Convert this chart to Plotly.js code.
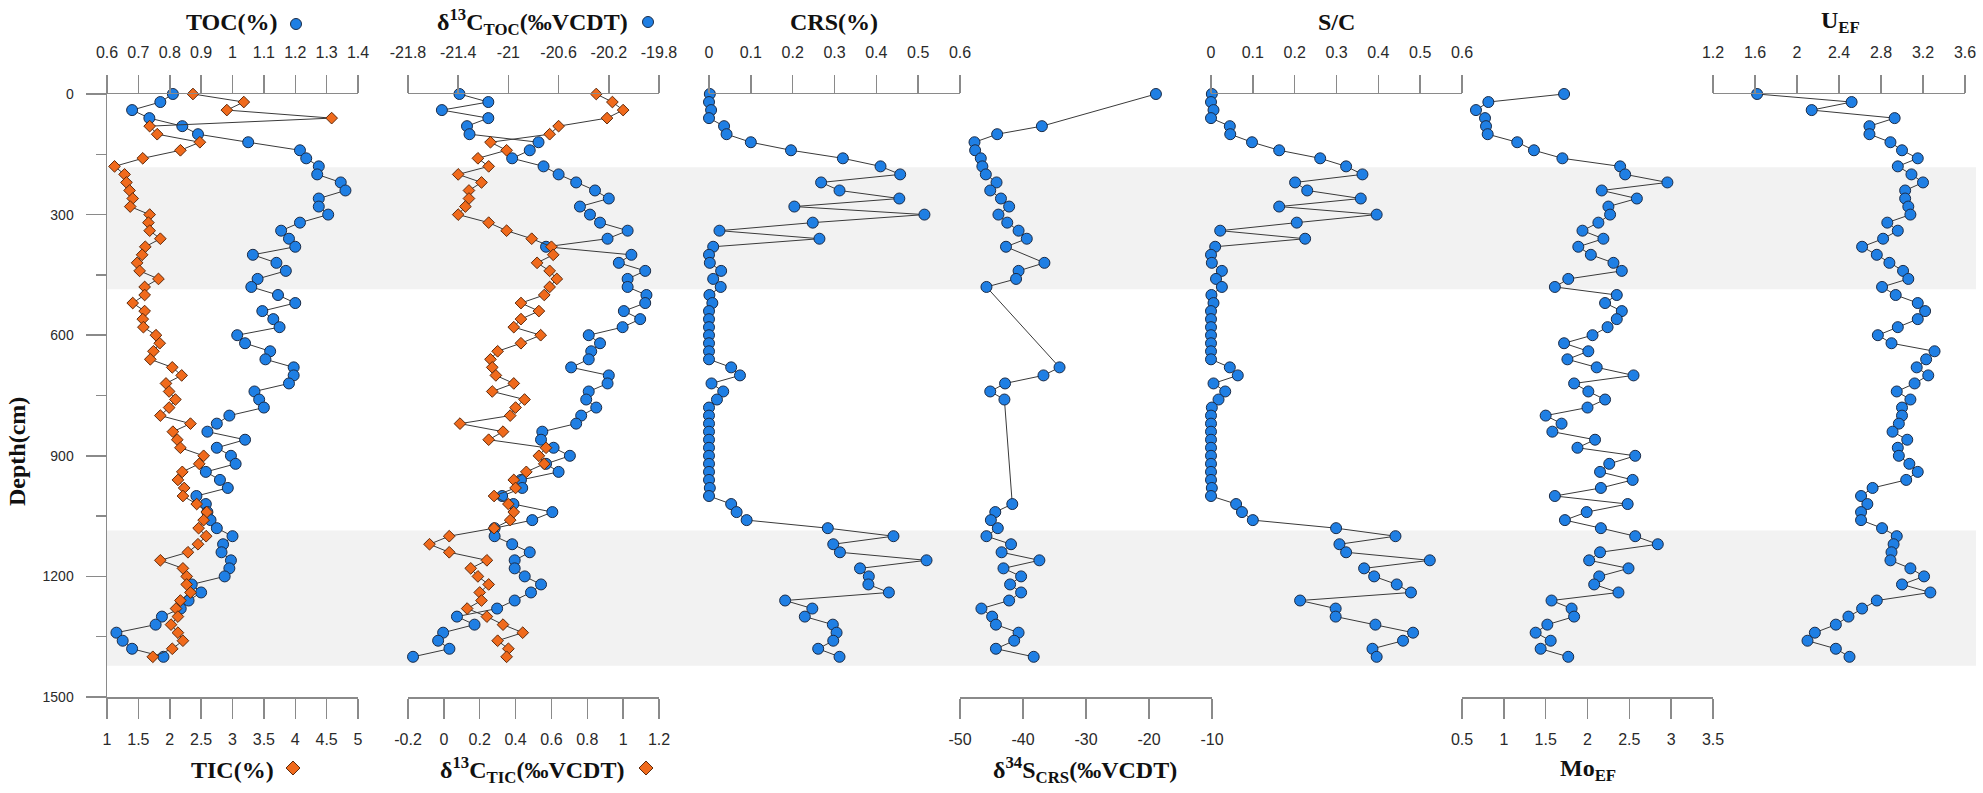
<!DOCTYPE html>
<html><head><meta charset="utf-8">
<script src="https://cdn.plot.ly/plotly-3.0.1.min.js"></script>
<style>html,body{margin:0;padding:0;background:#fff}#chart{width:1983px;height:793px}</style>
</head><body><div id="chart"></div>
<script>
// ---------------- DATA ----------------
const depth = [0,20,40,60,80,100,120,140,160,180,200,220,240,260,280,300,320,340,360,380,400,420,440,460,480,500,520,540,560,580,600,620,640,660,680,700,720,740,760,780,800,820,840,860,880,900,920,940,960,980,1000,1020,1040,1060,1080,1100,1120,1140,1160,1180,1200,1220,1240,1260,1280,1300,1320,1340,1360,1380,1400];

const toc = [0.81,0.77,0.68,0.735,0.84,0.89,1.05,1.215,1.235,1.275,1.27,1.345,1.36,1.275,1.275,1.305,1.215,1.155,1.18,1.2,1.065,1.14,1.17,1.08,1.06,1.145,1.2,1.095,1.13,1.15,1.015,1.04,1.12,1.105,1.195,1.195,1.18,1.07,1.085,1.1,0.99,0.95,0.92,1.04,0.95,0.995,1.01,0.915,0.96,0.985,0.885,0.915,0.92,0.93,0.95,1.0,0.97,0.965,0.995,0.99,0.975,0.87,0.9,0.86,0.835,0.775,0.755,0.63,0.65,0.68,0.78];

const tic = [2.37,3.18,2.91,4.58,1.68,1.80,2.48,2.17,1.57,1.12,1.28,1.31,1.36,1.41,1.37,1.68,1.66,1.68,1.85,1.61,1.56,1.48,1.52,1.82,1.60,1.60,1.41,1.60,1.57,1.58,1.78,1.84,1.74,1.69,2.04,2.19,1.94,1.99,2.09,1.99,1.85,2.33,2.05,2.12,2.17,2.54,2.47,2.20,2.13,2.23,2.21,2.43,2.59,2.54,2.46,2.58,2.45,2.29,1.85,2.21,2.27,2.27,2.33,2.17,2.10,2.13,2.02,2.13,2.21,2.04,1.73];

const d13cToc = [-21.39,-21.16,-21.53,-21.16,-21.33,-21.31,-20.76,-20.83,-20.97,-20.72,-20.60,-20.46,-20.31,-20.20,-20.43,-20.35,-20.27,-20.05,-20.21,-20.70,-20.02,-20.12,-19.91,-20.05,-20.05,-19.90,-19.91,-20.08,-19.95,-20.09,-20.36,-20.27,-20.34,-20.36,-20.50,-20.20,-20.21,-20.36,-20.38,-20.30,-20.42,-20.46,-20.73,-20.74,-20.64,-20.51,-20.70,-20.60,-20.90,-20.89,-21.05,-20.96,-20.65,-20.81,-21.11,-21.11,-20.97,-20.83,-20.95,-20.95,-20.87,-20.74,-20.82,-20.95,-21.09,-21.41,-21.27,-21.52,-21.56,-21.47,-21.76];

const d13cTic = [0.85,0.94,1.00,0.91,0.64,0.59,0.26,0.35,0.19,0.25,0.08,0.21,0.14,0.14,0.12,0.08,0.25,0.35,0.49,0.60,0.61,0.52,0.59,0.63,0.59,0.56,0.43,0.53,0.43,0.39,0.54,0.43,0.30,0.26,0.27,0.29,0.39,0.27,0.45,0.40,0.37,0.09,0.33,0.25,0.57,0.53,0.56,0.46,0.39,0.40,0.28,0.36,0.39,0.37,0.28,0.03,-0.08,0.03,0.24,0.15,0.19,0.25,0.20,0.21,0.13,0.24,0.33,0.44,0.30,0.36,0.35];

const crs = [0.002,0,0.005,0,0.036,0.042,0.10,0.196,0.32,0.41,0.457,0.268,0.312,0.455,0.204,0.515,0.248,0.025,0.264,0.01,0,0.002,0.029,0.01,0.028,0.001,0.008,0,0,0,0,0,0,0,0.053,0.074,0.006,0.034,0.019,0,0,0,0,0,0,0,0,0,0,0.002,0,0.053,0.066,0.09,0.284,0.441,0.297,0.313,0.52,0.361,0.382,0.381,0.43,0.182,0.247,0.229,0.296,0.305,0.297,0.261,0.312];

const d34sCrs = [-18.9,null,null,null,-37.0,-44.1,-47.7,-47.6,-46.7,-46.45,-45.9,-44.2,-45.2,-43.5,-42.2,-43.9,-42.5,-40.7,-39.4,-42.7,null,-36.6,-40.7,-41.1,-45.8,null,null,null,null,null,null,null,null,null,-34.2,-36.75,-42.85,-45.2,-42.95,null,null,null,null,null,null,null,null,null,null,null,null,-41.7,-44.4,-45.1,-44.0,-45.8,-41.9,-43.4,-37.4,-43.1,-40.3,-42.05,-40.3,-42.2,-46.6,-44.9,-44.3,-40.7,-41.4,-44.3,-38.3];

const sc = [0.002,0,0.006,0,0.045,0.046,0.098,0.163,0.261,0.323,0.362,0.201,0.23,0.358,0.163,0.396,0.205,0.022,0.225,0.01,0,0.002,0.026,0.012,0.026,0.001,0.006,0,0,0,0,0,0,0,0.045,0.064,0.006,0.034,0.018,0.002,0,0,0,0,0,0,0,0,0,0.002,0,0.06,0.074,0.1,0.299,0.441,0.307,0.323,0.523,0.366,0.39,0.444,0.478,0.213,0.298,0.298,0.393,0.483,0.459,0.386,0.396];

const moEF = [1.72,0.815,0.667,0.775,0.787,0.807,1.16,1.36,1.70,2.39,2.45,2.955,2.17,2.59,2.25,2.27,2.13,1.94,2.19,1.89,2.04,2.31,2.41,1.77,1.61,2.35,2.21,2.41,2.35,2.24,2.06,1.72,2.01,1.76,2.11,2.55,1.84,2.01,2.21,2.0,1.50,1.69,1.58,2.09,1.88,2.57,2.26,2.15,2.54,2.16,1.61,2.48,1.99,1.73,2.16,2.57,2.84,2.15,2.02,2.49,2.14,2.08,2.37,1.57,1.81,1.84,1.52,1.38,1.56,1.44,1.77];

const uEF = [1.62,2.52,2.14,2.93,2.69,2.69,2.89,3.00,3.15,2.96,3.09,3.20,3.03,3.03,3.06,3.08,2.86,2.96,2.82,2.62,2.76,2.88,3.01,3.06,2.81,2.94,3.15,3.22,3.15,2.96,2.77,2.90,3.31,3.23,3.14,3.25,3.12,2.95,3.08,3.00,3.00,2.97,2.91,3.05,2.96,2.97,3.07,3.15,3.04,2.72,2.61,2.67,2.61,2.61,2.81,2.95,2.92,2.90,2.89,3.08,3.21,3.00,3.27,2.76,2.62,2.49,2.37,2.17,2.10,2.37,2.50];

// shaded depth intervals (cm)
const bandTop = [182, 1086];
const bandBottom = [486, 1422];

// tick labels
const tocTicks = ['0.6','0.7','0.8','0.9','1','1.1','1.2','1.3','1.4'];
const ticTicks = ['1','1.5','2','2.5','3','3.5','4','4.5','5'];
const d13cTocTicks = ['-21.8','-21.4','-21','-20.6','-20.2','-19.8'];
const d13cTicTicks = ['-0.2','0','0.2','0.4','0.6','0.8','1','1.2'];
const crsTicks = ['0','0.1','0.2','0.3','0.4','0.5','0.6'];
const d34sTicks = ['-50','-40','-30','-20','-10'];
const scTicks = ['0','0.1','0.2','0.3','0.4','0.5','0.6'];
const moTicks = ['0.5','1','1.5','2','2.5','3','3.5'];
const uTicks = ['1.2','1.6','2','2.4','2.8','3.2','3.6'];
const depthTicks = [0,300,600,900,1200,1500];

// ---------------- LAYOUT ----------------
const W = 1983, H = 793;
const L = 107, R = 1976, T = 94, B = 697;
const fx = px => (px - L) / (R - L);
const fy = py => (B - py) / (B - T);

const BLUE = '#1f7fe4', BLUE_EDGE = '#1b2b46';
const ORANGE = '#f06a1c', ORANGE_EDGE = '#5e2a0c';
const AXC = '#8a8a8a';
const TICKFONT = {family: 'Liberation Sans, Arial, sans-serif', size: 16, color: '#2a2a2a'};
const TITLEFONT = {family: 'Liberation Serif, Times New Roman, serif', size: 24, color: '#111'};

function axis(px0, px1, side, ticks, extra) {
  const vals = ticks.map(Number);
  return Object.assign({
    domain: [fx(px0), fx(px1)],
    range: [vals[0], vals[vals.length - 1]],
    side: side, anchor: 'y',
    tickmode: 'array', tickvals: vals, ticktext: ticks,
    ticks: 'outside', ticklen: side === 'top' ? 18 : 20, tickwidth: 1.5, tickcolor: AXC,
    showline: true, linecolor: AXC, linewidth: 1.5,
    showgrid: false, zeroline: false,
    tickfont: TICKFONT, ticklabelstandoff: side === 'top' ? 10 : 7,
    fixedrange: true
  }, extra || {});
}

const P1 = [107, 358], P2 = [408, 659], P3 = [709, 960], P4 = [960, 1212],
      P5 = [1211, 1462], P6 = [1462, 1713], P7 = [1713, 1965];

function series(x, xa, kind, gaps) {
  const isDia = kind === 'dia';
  return {
    x: x, y: depth, xaxis: xa, yaxis: 'y', type: 'scatter', mode: 'lines+markers',
    connectgaps: !!gaps, cliponaxis: false, hoverinfo: 'skip',
    line: {color: '#3a3a3a', width: 1},
    marker: {
      symbol: isDia ? 'diamond' : 'circle',
      size: isDia ? 9 : 11,
      color: isDia ? ORANGE : BLUE,
      line: {color: isDia ? ORANGE_EDGE : BLUE_EDGE, width: 1}
    }
  };
}

const data = [
  series(toc, 'x', 'dot'),
  series(tic, 'x2', 'dia'),
  series(d13cToc, 'x3', 'dot'),
  series(d13cTic, 'x4', 'dia'),
  series(crs, 'x5', 'dot'),
  series(d34sCrs, 'x6', 'dot', true),
  series(sc, 'x7', 'dot'),
  series(moEF, 'x8', 'dot'),
  series(uEF, 'x9', 'dot')
];

const shapes = [];
for (let i = 0; i < bandTop.length; i++) {
  shapes.push({type: 'rect', layer: 'below', xref: 'paper', yref: 'y',
    x0: 0, x1: 1, y0: bandTop[i], y1: bandBottom[i],
    fillcolor: '#f2f2f2', line: {width: 0}});
}
function dotShape(cx, cy) {
  return {type: 'circle', layer: 'above', xref: 'paper', yref: 'paper',
    xsizemode: 'pixel', ysizemode: 'pixel', xanchor: fx(cx), yanchor: fy(cy),
    x0: -5.5, x1: 5.5, y0: -5.5, y1: 5.5,
    fillcolor: BLUE, line: {color: BLUE_EDGE, width: 1}};
}
function diaShape(cx, cy) {
  return {type: 'path', layer: 'above', xref: 'paper', yref: 'paper',
    xsizemode: 'pixel', ysizemode: 'pixel', xanchor: fx(cx), yanchor: fy(cy),
    path: 'M0,-7 L7,0 L0,7 L-7,0 Z',
    fillcolor: ORANGE, line: {color: ORANGE_EDGE, width: 1}};
}
shapes.push(dotShape(296, 24), dotShape(648, 22), diaShape(293, 768), diaShape(646, 768));

function title(text, cx, cy, extra) {
  return Object.assign({text: '<b>' + text + '</b>', xref: 'paper', yref: 'paper',
    x: fx(cx), y: fy(cy), xanchor: 'center', yanchor: 'middle',
    showarrow: false, font: TITLEFONT}, extra || {});
}
const annotations = [
  title('TOC(%)', 232, 22),
  title('δ<sup>13</sup>C<sub>TOC</sub>(‰VCDT)', 532, 22),
  title('CRS(%)', 834, 22),
  title('S/C', 1336, 22),
  title('U<sub>EF</sub>', 1840, 22),
  title('TIC(%)', 232, 770),
  title('δ<sup>13</sup>C<sub>TIC</sub>(‰VCDT)', 532, 770),
  title('δ<sup>34</sup>S<sub>CRS</sub>(‰VCDT)', 1085, 770),
  title('Mo<sub>EF</sub>', 1588, 770),
  title('Depth(cm)', 17, 452, {textangle: -90})
];

const layout = {
  width: W, height: H,
  margin: {l: L, r: W - R, t: T, b: H - B, pad: 0},
  paper_bgcolor: '#ffffff', plot_bgcolor: 'rgba(0,0,0,0)',
  showlegend: false,
  xaxis: axis(P1[0], P1[1], 'top', tocTicks),
  xaxis2: axis(P1[0], P1[1], 'bottom', ticTicks, {overlaying: 'x'}),
  xaxis3: axis(P2[0], P2[1], 'top', d13cTocTicks),
  xaxis4: axis(P2[0], P2[1], 'bottom', d13cTicTicks, {overlaying: 'x3'}),
  xaxis5: axis(P3[0], P3[1], 'top', crsTicks),
  xaxis6: axis(P4[0], P4[1], 'bottom', d34sTicks),
  xaxis7: axis(P5[0], P5[1], 'top', scTicks),
  xaxis8: axis(P6[0], P6[1], 'bottom', moTicks),
  xaxis9: axis(P7[0], P7[1], 'top', uTicks),
  yaxis: {
    domain: [0, 1], range: [1500, 0], anchor: 'x',
    tickmode: 'array', tickvals: depthTicks,
    ticks: 'outside', ticklen: 20, tickwidth: 1.5, tickcolor: AXC,
    minor: {tickmode: 'linear', tick0: 0, dtick: 150, ticks: 'outside', ticklen: 10, tickwidth: 1.5, tickcolor: AXC, showgrid: false},
    showline: true, linecolor: AXC, linewidth: 1.5,
    showgrid: false, zeroline: false,
    tickfont: {family: 'Liberation Sans, Arial, sans-serif', size: 14, color: '#2a2a2a'},
    ticklabelstandoff: 9, fixedrange: true
  },
  shapes: shapes,
  annotations: annotations
};

Plotly.newPlot('chart', data, layout, {displayModeBar: false, staticPlot: true});
</script>
</body></html>
